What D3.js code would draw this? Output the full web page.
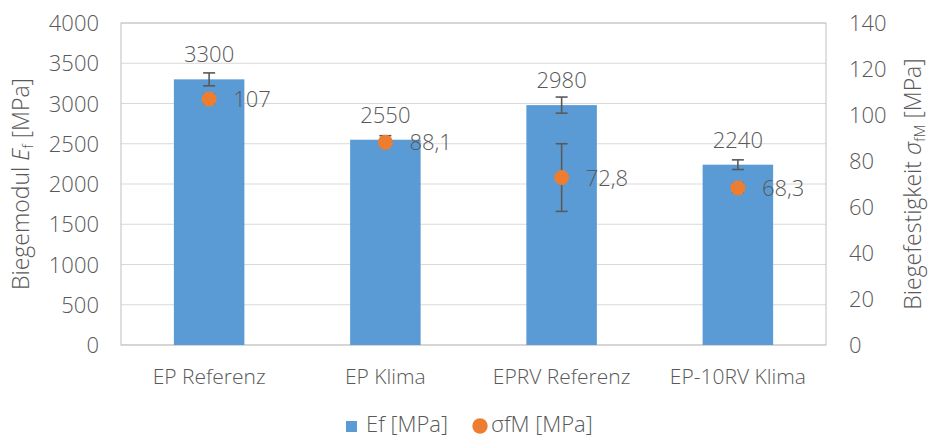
<!DOCTYPE html>
<html><head><meta charset="utf-8">
<script src="https://cdn.jsdelivr.net/npm/d3@7"></script>
<style>body{margin:0;background:#fff}svg{display:block}text{font-family:"Open Sans",sans-serif;fill:#595959;font-weight:300}</style>
</head><body><svg id="c" width="931" height="439"></svg>
<script>
const categories = ["EP Referenz","EP Klima","EPRV Referenz","EP-10RV Klima"];
const efValues = [3300,2550,2980,2240];
const efErrors = [80,50,100,60];
const sigmaValues = [107,88.1,72.8,68.3];
const sigmaErrors = [2,1.5,14.7,2];
const sigmaLabels = ["107","88,1","72,8","68,3"];
const leftTicks = [0,500,1000,1500,2000,2500,3000,3500,4000];
const rightTicks = [0,20,40,60,80,100,120,140];

const svg = d3.select("#c");
const L=121,R=826,T=23,B=345;
const x = d3.scaleBand().domain(categories).range([L,R]).paddingInner(0.6).paddingOuter(0.3);
const yL = d3.scaleLinear().domain([0,4000]).range([B,T]);
const yR = d3.scaleLinear().domain([0,140]).range([B,T]);

// grid
svg.append("g").selectAll("line").data(leftTicks).join("line")
  .attr("x1",L).attr("x2",R).attr("y1",d=>yL(d)).attr("y2",d=>yL(d))
  .attr("stroke","#d9d9d9").attr("stroke-width",1);
// border
svg.append("rect").attr("x",L).attr("y",T).attr("width",R-L).attr("height",B-T)
  .attr("fill","none").attr("stroke","#bfbfbf").attr("stroke-width",1);

// axes
const ax1 = svg.append("g").attr("transform",`translate(${L},0)`)
  .call(d3.axisLeft(yL).tickValues(leftTicks).tickFormat(d3.format("d")).tickSize(0).tickPadding(22));
ax1.select(".domain").remove();
ax1.selectAll("text").attr("font-size",22).attr("dy","0.35em").style("fill","#595959");
const ax2 = svg.append("g").attr("transform",`translate(${R},0)`)
  .call(d3.axisRight(yR).tickValues(rightTicks).tickFormat(d3.format("d")).tickSize(0).tickPadding(23));
ax2.select(".domain").remove();
ax2.selectAll("text").attr("font-size",22).attr("dy","0.35em").style("fill","#595959");
const ax3 = svg.append("g").attr("transform",`translate(0,${B})`)
  .call(d3.axisBottom(x).tickSize(0).tickPadding(0));
ax3.select(".domain").remove();
ax3.selectAll("text").attr("font-size",21).attr("dy",0).attr("y",39).style("fill","#595959");

// bars
const bw = x.bandwidth();
svg.append("g").selectAll("rect").data(categories).join("rect")
  .attr("x",d=>x(d)).attr("width",bw)
  .attr("y",(d,i)=>yL(efValues[i])).attr("height",(d,i)=>B-yL(efValues[i]))
  .attr("fill","#5b9bd5");

function errBar(g, cx, yTop, yBot){
  g.append("line").attr("x1",cx).attr("x2",cx).attr("y1",yTop).attr("y2",yBot);
  g.append("line").attr("x1",cx-6).attr("x2",cx+6).attr("y1",yTop).attr("y2",yTop);
  g.append("line").attr("x1",cx-6).attr("x2",cx+6).attr("y1",yBot).attr("y2",yBot);
}
const eg = svg.append("g").attr("stroke","#595959").attr("stroke-width",1.6);
categories.forEach((c,i)=>{
  const cx = x(c)+bw/2;
  errBar(eg,cx,yL(efValues[i]+efErrors[i]),yL(efValues[i]-efErrors[i]));
  errBar(eg,cx,yR(sigmaValues[i]+sigmaErrors[i]),yR(sigmaValues[i]-sigmaErrors[i]));
});

// points
svg.append("g").selectAll("circle").data(categories).join("circle")
  .attr("cx",d=>x(d)+bw/2).attr("cy",(d,i)=>yR(sigmaValues[i])).attr("r",7.5)
  .attr("fill","#ed7d31");

// labels
svg.append("g").selectAll("text").data(categories).join("text")
  .attr("x",d=>x(d)+bw/2).attr("y",(d,i)=>yL(efValues[i])-17)
  .attr("text-anchor","middle").attr("font-size",22)
  .text((d,i)=>efValues[i]);
svg.append("g").selectAll("text").data(categories).join("text")
  .attr("x",d=>x(d)+bw/2+24).attr("y",(d,i)=>yR(sigmaValues[i])+8)
  .attr("font-size",22)
  .text((d,i)=>sigmaLabels[i]);

// axis titles
const t1 = svg.append("text").attr("transform","translate(29,184) rotate(-90)")
  .attr("text-anchor","middle").attr("font-size",23);
t1.append("tspan").text("Biegemodul ");
t1.append("tspan").attr("font-style","italic").text("E");
t1.append("tspan").attr("font-size",15).attr("dy",4).text("f");
t1.append("tspan").attr("dy",-4).text(" [MPa]");
const t2 = svg.append("text").attr("transform","translate(921,184) rotate(-90)")
  .attr("text-anchor","middle").attr("font-size",23);
t2.append("tspan").text("Biegefestigkeit ");
t2.append("tspan").attr("font-style","italic").text("σ");
t2.append("tspan").attr("font-size",15).attr("dy",4).text("fM");
t2.append("tspan").attr("dy",-4).text(" [MPa]");

// legend
const lg = svg.append("g");
lg.append("rect").attr("x",346).attr("y",421).attr("width",11).attr("height",11).attr("fill","#5b9bd5");
lg.append("text").attr("x",366).attr("y",432).attr("font-size",22).text("Ef [MPa]");
lg.append("circle").attr("cx",480).attr("cy",426).attr("r",7.7).attr("fill","#ed7d31");
lg.append("text").attr("x",491).attr("y",432).attr("font-size",22).text("σfM [MPa]");
</script></body></html>
